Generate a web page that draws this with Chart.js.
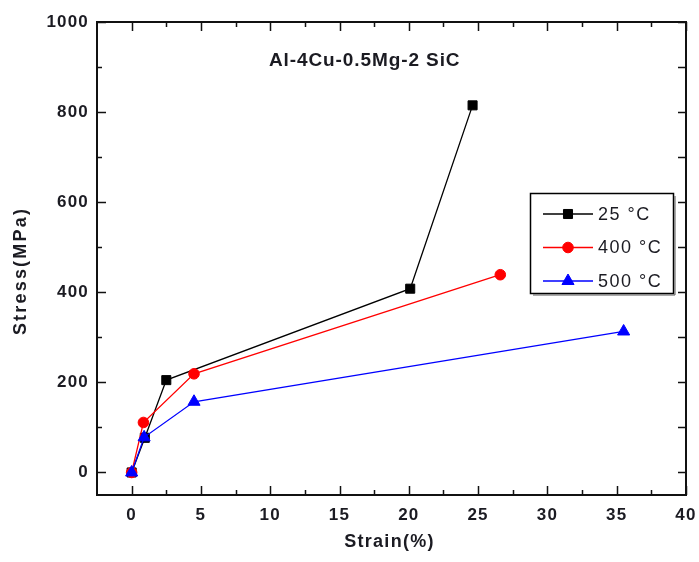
<!DOCTYPE html>
<html><head><meta charset="utf-8">
<script src="https://cdn.jsdelivr.net/npm/chart.js@4/dist/chart.umd.min.js"></script>
<style>html,body{margin:0;padding:0;background:#fff}#wrap{width:699px;height:562px;position:relative}</style>
</head><body><div id="wrap"><canvas id="c" width="699" height="562"></canvas></div>
<script>
// ---- data ----
const seriesLabels = ['25 \u00B0C', '400 \u00B0C', '500 \u00B0C'];
const strain25  = [0, 0.95, 2.5, 20.1, 24.6];
const stress25  = [0, 77, 205, 408, 815];
const strain400 = [0, 0.85, 4.5, 26.6];
const stress400 = [0, 111, 219, 439];
const strain500 = [0, 0.9, 4.5, 35.5];
const stress500 = [0, 78, 157, 313];
const xTickLabels = [0, 5, 10, 15, 20, 25, 30, 35, 40];
const yTickLabels = [0, 200, 400, 600, 800, 1000];
const xMinorTicks = [2.5, 7.5, 12.5, 17.5, 22.5, 27.5, 32.5, 37.5];
const yMinorTicks = [100, 300, 500, 700, 900];
const plotTitle = 'Al-4Cu-0.5Mg-2 SiC';
const xTitle = 'Strain(%)';
const yTitle = 'Stress(MPa)';

const colors = ['#000000', '#ff0000', '#0000ff'];
const styles = ['rect', 'circle', 'triangle'];
const radii = [6.4, 5.3, 7];

function pts(xs, ys) { return xs.map((x, i) => ({x: x, y: ys[i]})); }
const seriesData = [pts(strain25, stress25), pts(strain400, stress400), pts(strain500, stress500)];

const datasets = seriesData.map((d, i) => ({
  label: seriesLabels[i],
  data: d,
  showLine: true,
  borderColor: colors[i],
  backgroundColor: colors[i],
  borderWidth: 1.3,
  pointStyle: styles[i],
  pointRadius: radii[i],
  pointBorderWidth: 1,
  pointBorderColor: colors[i],
  pointBackgroundColor: colors[i],
  order: 3 - i,
  clip: false
}));

const TXT = '#1b1b22';
const FONT = '"Liberation Sans", Arial, sans-serif';

const framePlugin = {
  id: 'frame',
  beforeDraw(chart) {
    chart.ctx.letterSpacing = '1.2px';
  },
  afterDraw(chart) {
    const ctx = chart.ctx, a = chart.chartArea;
    const xs = chart.scales.x, ys = chart.scales.y;
    ctx.save();
    ctx.strokeStyle = '#111';
    ctx.lineWidth = 1.5;
    ctx.beginPath();
    const majL = 9, minL = 5;
    xTickLabels.forEach(v => {
      const p = Math.round(xs.getPixelForValue(v)) + 0.5;
      ctx.moveTo(p, a.bottom); ctx.lineTo(p, a.bottom - majL);
      ctx.moveTo(p, a.top); ctx.lineTo(p, a.top + majL);
    });
    xMinorTicks.forEach(v => {
      const p = Math.round(xs.getPixelForValue(v)) + 0.5;
      ctx.moveTo(p, a.bottom); ctx.lineTo(p, a.bottom - minL);
      ctx.moveTo(p, a.top); ctx.lineTo(p, a.top + minL);
    });
    yTickLabels.forEach(v => {
      const p = Math.round(ys.getPixelForValue(v)) + 0.5;
      ctx.moveTo(a.left, p); ctx.lineTo(a.left + majL, p);
      ctx.moveTo(a.right, p); ctx.lineTo(a.right - 8, p);
    });
    yMinorTicks.forEach(v => {
      const p = Math.round(ys.getPixelForValue(v)) + 0.5;
      ctx.moveTo(a.left, p); ctx.lineTo(a.left + minL, p);
      ctx.moveTo(a.right, p); ctx.lineTo(a.right - 8, p);
    });
    ctx.stroke();
    ctx.lineWidth = 2;
    ctx.strokeRect(Math.round(a.left), Math.round(a.top), Math.round(a.right - a.left), Math.round(a.bottom - a.top));

    // plot title
    ctx.fillStyle = TXT;
    ctx.font = 'bold 19px ' + FONT;
    ctx.letterSpacing = '0.9px';
    ctx.textAlign = 'left';
    ctx.textBaseline = 'middle';
    ctx.fillText(plotTitle, a.left + 172, a.top + 39);

    // axis titles
    ctx.font = 'bold 18px ' + FONT;
    ctx.letterSpacing = '1.3px';
    ctx.textAlign = 'center';
    ctx.fillText(xTitle, (a.left + a.right) / 2 - 2, 542);
    ctx.save();
    ctx.translate(21, 271);
    ctx.rotate(-Math.PI / 2);
    ctx.letterSpacing = '2.2px';
    ctx.fillText(yTitle, 0, 0);
    ctx.restore();

    // legend
    const bx = a.right - 156, by = a.top + 171, bw = 143, bh = 100;
    ctx.lineWidth = 1.5;
    ctx.strokeStyle = '#000';
    ctx.strokeRect(bx + 0.5, by + 0.5, bw, bh);
    ctx.beginPath();
    ctx.moveTo(bx + bw + 2, by + 3); ctx.lineTo(bx + bw + 2, by + bh + 2); ctx.lineTo(bx + 3, by + bh + 2);
    ctx.strokeStyle = '#555';
    ctx.lineWidth = 1;
    ctx.stroke();
    ctx.font = '18px ' + FONT;
    ctx.letterSpacing = '1.5px';
    ctx.textAlign = 'left';
    ctx.textBaseline = 'middle';
    seriesLabels.forEach((lab, i) => {
      const y = by + 21 + i * 33.5;
      ctx.strokeStyle = colors[i];
      ctx.fillStyle = colors[i];
      ctx.lineWidth = 1.3;
      ctx.beginPath();
      ctx.moveTo(bx + 13, y); ctx.lineTo(bx + 63, y);
      ctx.stroke();
      ctx.lineWidth = 1;
      Chart.helpers.drawPoint(ctx, {pointStyle: styles[i], radius: radii[i], borderWidth: 1, rotation: 0}, bx + 38, y);
      ctx.fillStyle = TXT;
      ctx.fillText(lab, bx + 68, y + 1);
    });
    ctx.restore();
  }
};

new Chart(document.getElementById('c'), {
  type: 'scatter',
  data: { datasets: datasets },
  options: {
    responsive: false,
    animation: false,
    devicePixelRatio: 1,
    layout: { padding: { top: 22, right: 13, left: 0, bottom: 0 } },
    plugins: { legend: { display: false }, tooltip: { enabled: false }, title: { display: false } },
    scales: {
      x: {
        type: 'linear', min: -2.5, max: 40,
        afterBuildTicks: s => { s.ticks = xTickLabels.map(v => ({value: v})); },
        afterFit: s => { s.height = 67; s.paddingRight = 0; s.paddingLeft = 0; },
        grid: { display: false, drawTicks: false },
        border: { display: false },
        ticks: { color: TXT, padding: 10, maxRotation: 0, autoSkip: false, callback: v => String(v), font: { family: FONT, size: 17, weight: 'bold' } }
      },
      y: {
        type: 'linear', min: -50, max: 1000,
        afterBuildTicks: s => { s.ticks = yTickLabels.map(v => ({value: v})); },
        afterFit: s => { s.width = 97; s.paddingTop = 0; s.paddingBottom = 0; },
        grid: { display: false, drawTicks: false },
        border: { display: false },
        ticks: { color: TXT, padding: 8, autoSkip: false, callback: v => String(v), font: { family: FONT, size: 17, weight: 'bold' } }
      }
    }
  },
  plugins: [framePlugin]
});
</script>
</body></html>
